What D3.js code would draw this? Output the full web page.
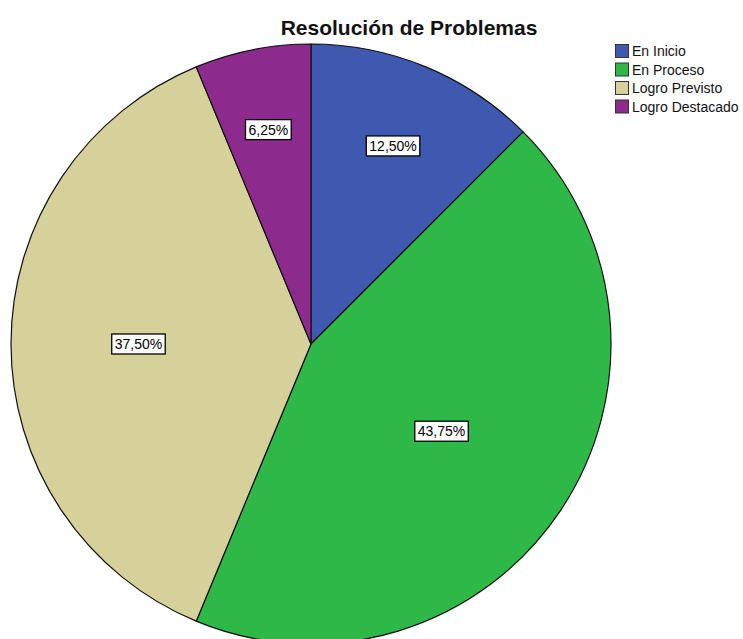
<!DOCTYPE html>
<html><head><meta charset="utf-8">
<script src="https://cdn.jsdelivr.net/npm/d3@7"></script>
<style>body{margin:0;background:#fff;} svg{display:block;}</style>
</head><body>
<svg id="chart" width="743" height="639"></svg>
<script>
const categories = ["En Inicio", "En Proceso", "Logro Previsto", "Logro Destacado"];
const values = [12.50, 43.75, 37.50, 6.25];
const labels = ["12,50%", "43,75%", "37,50%", "6,25%"];
const colors = ["#3F58B0", "#2EB848", "#D6D19B", "#8C2A8D"];
const title = "Resolución de Problemas";

const svg = d3.select("#chart");
const cx = 311, cy = 344, r = 300;
const font = "'Liberation Sans', Arial, sans-serif";

svg.append("text").attr("x", 409).attr("y", 35).attr("text-anchor", "middle")
  .attr("font-family", font).attr("font-weight", "bold").attr("font-size", 21)
  .attr("fill", "#111").text(title);

const data = categories.map((c, i) => ({c, v: values[i], l: labels[i], col: colors[i]}));
const pie = d3.pie().value(d => d.v).sort(null);
const arcs = pie(data);
const arc = d3.arc().innerRadius(0).outerRadius(r);

const g = svg.append("g").attr("transform", `translate(${cx},${cy})`);
g.selectAll("path").data(arcs).enter().append("path")
  .attr("d", arc).attr("fill", d => d.data.col)
  .attr("stroke", "#111").attr("stroke-width", 1.2).attr("stroke-linejoin", "round");

arcs.forEach(d => {
  const a = d.endAngle - d.startAngle;
  const mid = (d.startAngle + d.endAngle) / 2;
  const dist = 1.1 * 4 * r * Math.sin(a / 2) / (3 * a);
  const x = dist * Math.sin(mid), y = -dist * Math.cos(mid);
  const lg = g.append("g").attr("transform", `translate(${x},${y})`);
  const t = lg.append("text").attr("text-anchor", "middle").attr("dy", "0.36em")
    .attr("font-family", font).attr("font-size", 14).attr("fill", "#000").text(d.data.l);
  const bb = t.node().getBBox();
  lg.insert("rect", "text").attr("x", bb.x - 3).attr("y", -10).attr("width", bb.width + 6).attr("height", 20)
    .attr("fill", "#fff").attr("stroke", "#000").attr("stroke-width", 1.3);
});

const leg = svg.append("g").attr("transform", "translate(615,44)");
data.forEach((d, i) => {
  const row = leg.append("g").attr("transform", `translate(0,${i * 18.5})`);
  row.append("rect").attr("x", 0.5).attr("y", 0.5).attr("width", 13).attr("height", 13)
    .attr("fill", d.col).attr("stroke", "#333").attr("stroke-width", 1);
  row.append("text").attr("x", 17).attr("y", 12).attr("font-family", font).attr("font-size", 14)
    .attr("fill", "#111").text(d.c);
});
</script>
</body></html>
